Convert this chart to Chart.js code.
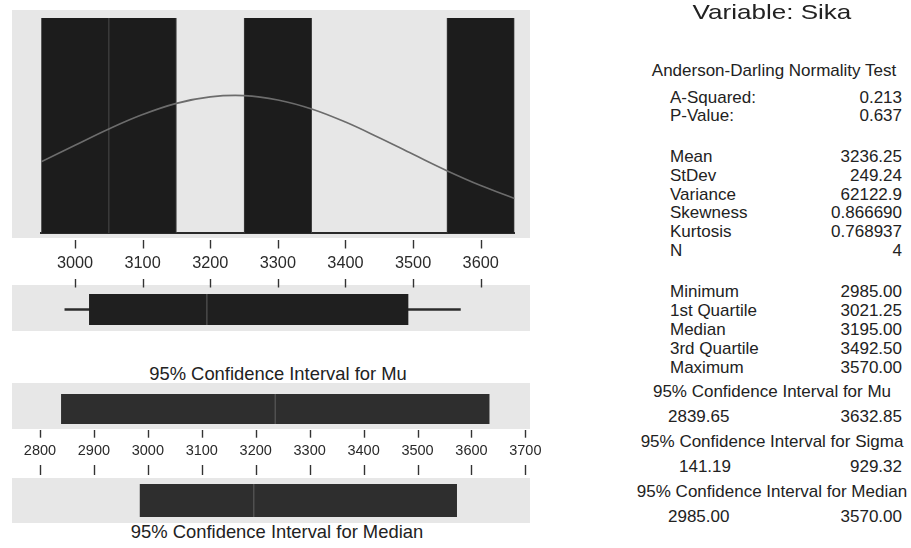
<!DOCTYPE html>
<html>
<head>
<meta charset="utf-8">
<script src="https://cdn.jsdelivr.net/npm/chart.js@4/dist/chart.umd.min.js"></script>
<style>
  html, body { margin: 0; padding: 0; background: #fff; }
  body { position: relative; width: 911px; height: 548px; overflow: hidden;
         font-family: "Liberation Sans", Arial, sans-serif; color: #222; }
  .panel { position: absolute; background: #e7e7e7; }
  canvas { position: absolute; left: 0; }
  .t { position: absolute; white-space: nowrap; font-size: 17px; line-height: 17px; }
  .c { text-align: center; width: 400px; }
  .r { text-align: right; right: 9px; }
</style>
</head>
<body>
<!-- grey panel backgrounds -->
<div class="panel" style="left:12px;top:10px;width:518px;height:228px"></div>
<div class="panel" style="left:12px;top:285px;width:518px;height:46px"></div>
<div class="panel" style="left:12px;top:383px;width:518px;height:46px"></div>
<div class="panel" style="left:12px;top:478px;width:518px;height:45px"></div>

<canvas id="hist" width="540" height="293" style="top:0px"></canvas>
<canvas id="box" width="540" height="31" style="top:294px"></canvas>
<canvas id="ciMu" width="560" height="85" style="top:394px"></canvas>
<canvas id="ciMed" width="560" height="33" style="top:484px"></canvas>

<div class="t c" style="left:78px;top:365px;font-size:18.4px;line-height:18.4px">95% Confidence Interval for Mu</div>
<div class="t c" style="left:77px;top:523px;font-size:18.4px;line-height:18.4px">95% Confidence Interval for Median</div>

<div id="stats"></div>

<script>
// ---- data ----
const histMid = [3000, 3100, 3200, 3300, 3400, 3500, 3600];
const histCount = [1, 1, 0, 1, 0, 0, 1];
const histTicks = [3000, 3100, 3200, 3300, 3400, 3500, 3600];

// fitted normal curve, in count units
const curveX = [2950, 3000, 3050, 3100, 3150, 3200, 3250, 3300, 3350, 3400, 3450, 3500, 3550, 3600, 3650];
const curveY = [0.331, 0.408, 0.484, 0.551, 0.603, 0.633, 0.639, 0.619, 0.577, 0.516, 0.443, 0.366, 0.290, 0.221, 0.161];

// min, Q1, median, Q3, max
const fiveNum = [2985.00, 3021.25, 3195.00, 3492.50, 3570.00];
const meanValue = 3236.25;
const ciMu = [2839.65, 3632.85];
const ciSigma = [141.19, 929.32];
const ciMedian = [2985.00, 3570.00];
const ciTicks = [2800, 2900, 3000, 3100, 3200, 3300, 3400, 3500, 3600, 3700];

const testLabels = ['A-Squared:', 'P-Value:'];
const testValues = ['0.213', '0.637'];
const momentLabels = ['Mean', 'StDev', 'Variance', 'Skewness', 'Kurtosis', 'N'];
const momentValues = ['3236.25', '249.24', '62122.9', '0.866690', '0.768937', '4'];
const quantLabels = ['Minimum', '1st Quartile', 'Median', '3rd Quartile', 'Maximum'];

// ---- helpers ----
const FONT = '"Liberation Sans", Arial, sans-serif';

// tick marks above and below the labels, plus a centre line inside a bar
const marks = {
  id: 'marks',
  afterDraw(chart, args, opts) {
    const ctx = chart.ctx, sx = chart.scales.x, a = chart.chartArea;
    ctx.save();
    if (opts.ticks) {
      ctx.strokeStyle = '#333';
      ctx.lineWidth = 1.4;
      sx.ticks.forEach(t => {
        const px = Math.round(sx.getPixelForValue(t.value)) + 0.5;
        opts.ticks.forEach(([p, q]) => {
          ctx.beginPath();
          ctx.moveTo(px, a.bottom + p);
          ctx.lineTo(px, a.bottom + q);
          ctx.stroke();
        });
      });
    }
    if (opts.lineAt != null) {
      const px = sx.getPixelForValue(opts.lineAt);
      ctx.strokeStyle = opts.lineColor || '#555';
      ctx.lineWidth = 1.5;
      ctx.beginPath();
      ctx.moveTo(px, a.top);
      ctx.lineTo(px, a.bottom);
      ctx.stroke();
    }
    ctx.restore();
  }
};

const common = {
  responsive: false,
  animation: false,
  events: [],
};

// ---- histogram with normal curve ----
new Chart(document.getElementById('hist'), {
  type: 'bar',
  data: {
    datasets: [
      {
        type: 'line',
        data: curveX.map((x, i) => ({ x, y: curveY[i] })),
        borderColor: '#6c6c6c',
        borderWidth: 1.6,
        pointRadius: 0,
        tension: 0.4,
        order: 0
      },
      {
        data: histMid.map((x, i) => ({ x, y: histCount[i] })),
        backgroundColor: '#1c1c1c',
        borderColor: '#3e3e3e',
        borderWidth: { left: 1, right: 1, top: 0, bottom: 0 },
        borderSkipped: 'start',
        barPercentage: 1,
        categoryPercentage: 1,
        order: 1
      }
    ]
  },
  options: {
    ...common,
    layout: { padding: { left: 41.2, right: 540 - 514.5, top: 18, bottom: 0 } },
    plugins: { legend: { display: false }, tooltip: { enabled: false },
               marks: { ticks: [[7, 15.5], [46, 54.5]] } },
    scales: {
      x: {
        type: 'linear', min: 2950, max: 3650, offset: false,
        grid: { drawOnChartArea: false, drawTicks: false },
        border: { display: true, color: '#2a2a2a', width: 2 },
        afterBuildTicks: s => { s.ticks = histTicks.map(v => ({ value: v })); },
        afterFit: s => { s.height = 60; },
        ticks: { padding: 21, color: '#2a2a2a', font: { family: FONT, size: 16.3 },
                 callback: v => String(v), maxRotation: 0, autoSkip: false }
      },
      y: { display: false, min: 0, max: 1 }
    }
  },
  plugins: [marks]
});

// ---- box plot ----
new Chart(document.getElementById('box'), {
  type: 'bar',
  data: {
    labels: ['Sika'],
    datasets: [
      { data: [[fiveNum[0], fiveNum[4]]], backgroundColor: '#2c2c2c', barThickness: 2, grouped: false, order: 2 },
      { data: [[fiveNum[1], fiveNum[3]]], backgroundColor: '#1f1f1f', barPercentage: 1, categoryPercentage: 1, grouped: false, order: 1 }
    ]
  },
  options: {
    ...common,
    indexAxis: 'y',
    layout: { padding: { left: 41.2, right: 540 - 514.5, top: 0, bottom: 0 } },
    plugins: { legend: { display: false }, tooltip: { enabled: false },
               marks: { lineAt: fiveNum[2], lineColor: '#4a4a4a' } },
    scales: {
      x: { type: 'linear', display: false, min: 2950, max: 3650, offset: false },
      y: { display: false }
    }
  },
  plugins: [marks]
});

// ---- confidence interval for the mean, with shared axis ----
new Chart(document.getElementById('ciMu'), {
  type: 'bar',
  data: {
    labels: ['Mu'],
    datasets: [{ data: [ciMu], backgroundColor: '#2e2e2e', barPercentage: 1, categoryPercentage: 1 }]
  },
  options: {
    ...common,
    indexAxis: 'y',
    layout: { padding: { left: 40, right: 560 - 527, top: 0, bottom: 0 } },
    plugins: { legend: { display: false }, tooltip: { enabled: false },
               marks: { ticks: [[6, 13.7], [41, 51]], lineAt: meanValue, lineColor: '#505050' } },
    scales: {
      x: {
        type: 'linear', min: 2800, max: 3700, offset: false,
        grid: { drawOnChartArea: false, drawTicks: false },
        border: { display: false },
        afterBuildTicks: s => { s.ticks = ciTicks.map(v => ({ value: v })); },
        afterFit: s => { s.height = 55; },
        ticks: { padding: 18.5, color: '#2a2a2a', font: { family: FONT, size: 14.5 },
                 callback: v => String(v), maxRotation: 0, autoSkip: false }
      },
      y: { display: false }
    }
  },
  plugins: [marks]
});

// ---- confidence interval for the median ----
new Chart(document.getElementById('ciMed'), {
  type: 'bar',
  data: {
    labels: ['Median'],
    datasets: [{ data: [ciMedian], backgroundColor: '#2e2e2e', barPercentage: 1, categoryPercentage: 1 }]
  },
  options: {
    ...common,
    indexAxis: 'y',
    layout: { padding: { left: 40, right: 560 - 527, top: 0, bottom: 0 } },
    plugins: { legend: { display: false }, tooltip: { enabled: false },
               marks: { lineAt: fiveNum[2], lineColor: '#505050' } },
    scales: {
      x: { type: 'linear', display: false, min: 2800, max: 3700, offset: false },
      y: { display: false }
    }
  },
  plugins: [marks]
});

// ---- summary text panel ----
const stats = document.getElementById('stats');
function addText(text, cls, style) {
  const d = document.createElement('div');
  d.className = 't ' + cls;
  d.textContent = text;
  Object.assign(d.style, style);
  stats.appendChild(d);
}
const top17 = cy => (cy - 8.3) + 'px';

addText('Variable: Sika', 'c', { left: '571.5px', top: '0.5px', fontSize: '21px', lineHeight: '21px', transform: 'scaleX(1.24)' });
addText('Anderson-Darling Normality Test', 'c', { left: '574px', top: top17(70.5) });

const testY = [97, 115];
testLabels.forEach((l, i) => {
  addText(l, '', { left: '670px', top: top17(testY[i]) });
  addText(testValues[i], 'r', { top: top17(testY[i]) });
});
const momentY = [156, 175, 194, 212.7, 231.7, 250.7];
momentLabels.forEach((l, i) => {
  addText(l, '', { left: '670px', top: top17(momentY[i]) });
  addText(momentValues[i], 'r', { top: top17(momentY[i]) });
});
const quantY = [291.7, 310, 329.3, 348.3, 367.3];
quantLabels.forEach((l, i) => {
  addText(l, '', { left: '670px', top: top17(quantY[i]) });
  addText(fiveNum[i].toFixed(2), 'r', { top: top17(quantY[i]) });
});

const ciBlocks = [
  ['95% Confidence Interval for Mu', ciMu, 391.7, 668],
  ['95% Confidence Interval for Sigma', ciSigma, 441.7, 679],
  ['95% Confidence Interval for Median', ciMedian, 491.7, 668]
];
ciBlocks.forEach(([title, ci, y, lx]) => {
  addText(title, 'c', { left: '572px', top: top17(y) });
  addText(ci[0].toFixed(2), '', { left: lx + 'px', top: top17(y + 25) });
  addText(ci[1].toFixed(2), 'r', { top: top17(y + 25) });
});
</script>
</body>
</html>
